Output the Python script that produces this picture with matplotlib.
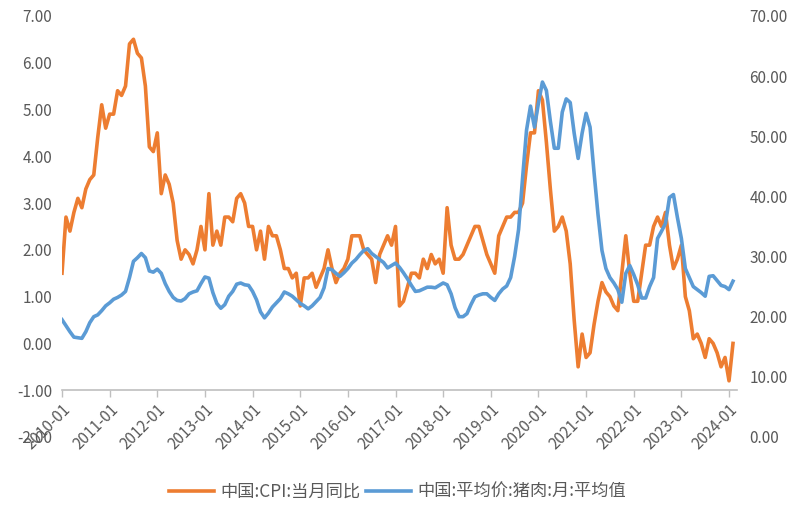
import numpy as np
import pandas as pd
import matplotlib
matplotlib.use("Agg")
import matplotlib.pyplot as plt
from matplotlib.ticker import FormatStrFormatter
from matplotlib.transforms import ScaledTranslation

plt.rcParams["font.family"] = ["Noto Sans CJK SC", "DejaVu Sans"]

# monthly series, 2010-01 .. 2024-02
months = pd.date_range("2010-01", periods=170, freq="MS")

cpi_yoy = [
    1.5, 2.7, 2.4, 2.8, 3.1, 2.9, 3.3, 3.5, 3.6, 4.4, 5.1, 4.6,
    4.9, 4.9, 5.4, 5.3, 5.5, 6.4, 6.5, 6.2, 6.1, 5.5, 4.2, 4.1,
    4.5, 3.2, 3.6, 3.4, 3.0, 2.2, 1.8, 2.0, 1.9, 1.7, 2.0, 2.5,
    2.0, 3.2, 2.1, 2.4, 2.1, 2.7, 2.7, 2.6, 3.1, 3.2, 3.0, 2.5,
    2.5, 2.0, 2.4, 1.8, 2.5, 2.3, 2.3, 2.0, 1.6, 1.6, 1.4, 1.5,
    0.8, 1.4, 1.4, 1.5, 1.2, 1.4, 1.6, 2.0, 1.6, 1.3, 1.5, 1.6,
    1.8, 2.3, 2.3, 2.3, 2.0, 1.9, 1.8, 1.3, 1.9, 2.1, 2.3, 2.1,
    2.5, 0.8, 0.9, 1.2, 1.5, 1.5, 1.4, 1.8, 1.6, 1.9, 1.7, 1.8,
    1.5, 2.9, 2.1, 1.8, 1.8, 1.9, 2.1, 2.3, 2.5, 2.5, 2.2, 1.9,
    1.7, 1.5, 2.3, 2.5, 2.7, 2.7, 2.8, 2.8, 3.0, 3.8, 4.5, 4.5,
    5.4, 5.2, 4.3, 3.3, 2.4, 2.5, 2.7, 2.4, 1.7, 0.5, -0.5, 0.2,
    -0.3, -0.2, 0.4, 0.9, 1.3, 1.1, 1.0, 0.8, 0.7, 1.5, 2.3, 1.5,
    0.9, 0.9, 1.5, 2.1, 2.1, 2.5, 2.7, 2.5, 2.8, 2.1, 1.6, 1.8,
    2.1, 1.0, 0.7, 0.1, 0.2, 0.0, -0.3, 0.1, 0.0, -0.2, -0.5, -0.3,
    -0.8, 0.0,
]

pork_price = [
    19.5, 18.5, 17.5, 16.6, 16.5, 16.4, 17.5, 19.0, 20.0, 20.3, 21.0, 21.8,
    22.3, 22.9, 23.2, 23.6, 24.2, 26.5, 29.2, 29.8, 30.5, 29.8, 27.6, 27.4,
    27.9, 27.2, 25.5, 24.2, 23.2, 22.7, 22.6, 23.0, 23.8, 24.1, 24.3, 25.5,
    26.6, 26.4, 24.0, 22.2, 21.4, 22.0, 23.4, 24.2, 25.4, 25.6, 25.3, 25.2,
    24.2, 22.8, 20.8, 19.8, 20.6, 21.6, 22.3, 23.0, 24.1, 23.8, 23.4, 22.8,
    22.2, 21.8, 21.3, 21.8, 22.5, 23.2, 24.8, 28.0, 27.8, 27.2, 26.7, 27.3,
    28.0, 28.9, 29.5, 30.3, 31.0, 31.3, 30.5, 30.0, 29.5, 29.0, 28.1, 28.5,
    28.9, 28.2, 27.3, 26.3, 25.2, 24.2, 24.3, 24.6, 24.9, 24.9, 24.8, 25.2,
    25.6, 25.3, 23.8, 21.5, 20.0, 20.0, 20.5, 22.0, 23.3, 23.6, 23.8, 23.8,
    23.2, 22.7, 23.8, 24.6, 25.1, 26.5, 30.0, 34.5, 43.0, 51.0, 55.0, 51.5,
    55.5, 59.0, 57.6, 52.5, 48.0, 48.0, 54.0, 56.2, 55.6, 50.5, 46.3, 50.5,
    53.8, 51.5, 44.0, 37.0, 31.0, 28.0, 26.5, 25.6, 24.5, 22.4, 27.2, 28.5,
    27.0, 25.3, 23.1, 23.1, 25.0, 26.5, 33.0, 34.2, 35.5, 39.8, 40.3, 36.5,
    33.0, 28.0, 26.5, 25.0, 24.5, 24.0, 23.4, 26.7, 26.8, 26.0, 25.2, 25.0,
    24.5, 25.9,
]

ORANGE = "#ED7D31"
BLUE = "#5B9BD5"
TXT = "#595959"
AXIS = "#BFBFBF"

x = np.arange(len(months))
yearly = x[::12]
year_labels = [m.strftime("%Y-%m") for m in months[::12]]

fig = plt.figure(figsize=(8, 5.12), dpi=100)
ax = fig.add_axes([0.0775, 0.1465, 0.8437, 0.8225])
ax2 = ax.twinx()

l1, = ax.plot(x, cpi_yoy, color=ORANGE, lw=2.6, solid_joinstyle="round")
l2, = ax2.plot(x, pork_price, color=BLUE, lw=2.6, solid_joinstyle="round")

ax.set_xlim(0, 170)
ax.set_ylim(-2, 7)
ax2.set_ylim(0, 70)
ax.set_yticks(np.arange(-2, 8, 1))
ax2.set_yticks(np.arange(0, 80, 10))
ax.yaxis.set_major_formatter(FormatStrFormatter("%.2f"))
ax2.yaxis.set_major_formatter(FormatStrFormatter("%.2f"))

for a in (ax, ax2):
    for s in a.spines.values():
        s.set_visible(False)
ax.spines["bottom"].set_visible(True)
ax.spines["bottom"].set_position(("data", -1))
ax.spines["bottom"].set_color(AXIS)
ax.spines["bottom"].set_linewidth(1.2)

ax.set_xticks(yearly)
ax.set_xticklabels(year_labels, rotation=45, ha="right", va="top",
                   rotation_mode="anchor")
shift = ScaledTranslation(5 / 100, -4 / 100, fig.dpi_scale_trans)
for lab in ax.get_xticklabels():
    lab.set_transform(lab.get_transform() + shift)
ax.tick_params(axis="x", length=5, width=1, color=AXIS, direction="out",
               labelsize=11, labelcolor=TXT, pad=3)
ax.tick_params(axis="y", length=0, labelsize=11, labelcolor=TXT, pad=7)
ax2.tick_params(axis="y", length=0, labelsize=11, labelcolor=TXT, pad=9)

fig.legend([l1, l2], ["中国:CPI:当月同比", "中国:平均价:猪肉:月:平均值"],
           loc="center", bbox_to_anchor=(0.497, 0.039), ncol=2, frameon=False,
           fontsize=12.4, labelcolor=TXT, handlelength=2.6, handletextpad=0.35,
           columnspacing=0.35)

fig.savefig("out.png", dpi=100)
